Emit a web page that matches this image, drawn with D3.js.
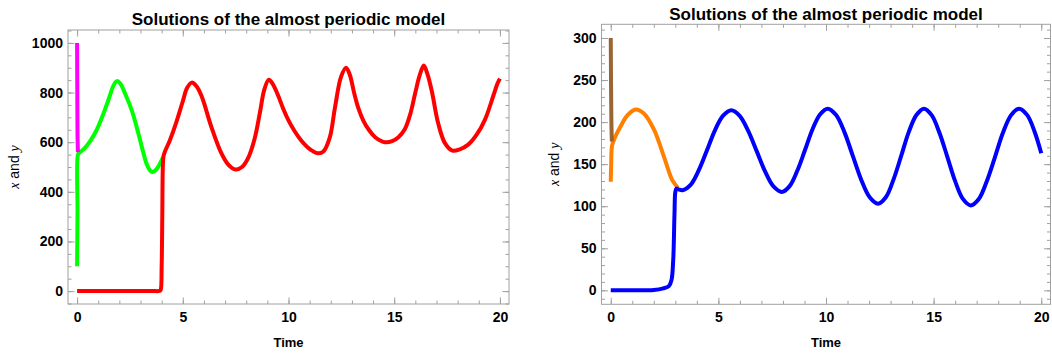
<!DOCTYPE html>
<html>
<head>
<meta charset="utf-8">
<script src="https://cdn.jsdelivr.net/npm/d3@7"></script>
<style>
  body { margin: 0; background: #fff; }
  svg { display: block; }
  .title { font: bold 17px "Liberation Sans", Arial, sans-serif; fill: #000; }
  .axis-label { font: bold 13px "Liberation Sans", Arial, sans-serif; fill: #000; }
  .y-label { font: 14px "Liberation Sans", Arial, sans-serif; fill: #000; }
  .y-label .var { font-family: "Liberation Serif", "Times New Roman", serif; font-style: italic; }
</style>
</head>
<body>
<svg id="chart" width="1052" height="354"></svg>
<script>
// time values
const leftMagenta = [[0, 1000], [0.01, 800], [0.02, 630], [0.04, 560]];
const leftGreen = [
  [0, 100], [0.02, 320], [0.04, 550], [0.1, 557], [0.35, 575], [0.61, 603], [0.9, 645],
  [1.2, 705], [1.5, 775], [1.72, 828], [1.88, 846], [2.05, 835], [2.3, 790], [2.6, 725],
  [2.9, 635], [3.15, 552], [3.3, 510], [3.45, 486], [3.55, 480], [3.68, 484], [3.85, 503],
  [4.0, 528], [4.08, 541],
];
const leftRed = [
  [0, 0], [1, 0], [2, 0], [3, 0], [3.6, 0], [3.85, 0], [3.92, 1], [3.96, 6], [4.0, 100],
  [4.03, 300], [4.06, 510], [4.1, 548],
  [4.4, 610], [4.7, 682], [5.0, 765], [5.2, 818], [5.42, 840], [5.65, 825], [5.9, 783],
  [6.35, 662], [6.8, 560], [7.15, 510], [7.5, 490], [7.8, 500], [8.1, 538], [8.4, 615],
  [8.65, 720], [8.85, 810], [9.07, 852], [9.25, 835], [9.5, 790], [9.75, 735], [10.0, 688],
  [10.3, 643], [10.6, 607], [10.9, 580], [11.15, 564], [11.4, 555], [11.65, 562], [11.95, 618],
  [12.2, 740], [12.48, 862], [12.72, 900], [12.9, 872], [13.1, 800], [13.3, 738], [13.55, 685],
  [13.8, 650], [14.1, 620], [14.55, 600], [14.9, 604], [15.2, 620], [15.5, 652], [15.75, 710],
  [16.0, 800], [16.2, 868], [16.4, 909], [16.58, 872], [16.78, 805], [17.08, 676], [17.4, 596],
  [17.75, 566], [18.1, 571], [18.5, 590], [18.9, 630], [19.3, 692], [19.7, 790], [19.88, 835],
  [20, 856],
];

// right panel
const rightBrown = [[0, 300], [0.015, 240], [0.03, 200], [0.05, 177]];
const rightOrange = [
  [0, 129], [0.02, 150], [0.06, 172], [0.2, 182], [0.46, 195], [0.77, 208], [1.16, 215],
  [1.55, 210], [2.01, 191], [2.47, 159], [2.86, 131], [3.12, 122],
];
const rightBlue = [
  [0, 0], [1, 0], [2, 0.5], [2.44, 2.4], [2.7, 5], [2.82, 12], [2.9, 35], [2.96, 90],
  [3.0, 117], [3.05, 121], [3.15, 120], [3.33, 119],
  [3.71, 125.4], [4.09, 142.8], [4.47, 166.5], [4.84, 190.3], [5.22, 207.6], [5.6, 214],
  [5.99, 207.5], [6.38, 189.8], [6.78, 165.5], [7.17, 141.3], [7.56, 123.5], [7.95, 117],
  [8.3, 123.6], [8.66, 141.8], [9.02, 166.5], [9.37, 191.3], [9.73, 209.4], [10.08, 216],
  [10.47, 208.4], [10.86, 187.8], [11.25, 159.5], [11.64, 131.3], [12.03, 110.6], [12.42, 103],
  [12.78, 110.6], [13.13, 131.3], [13.49, 159.5], [13.84, 187.8], [14.2, 208.4], [14.55, 216],
  [14.91, 208.3], [15.27, 187.3], [15.64, 158.5], [16.0, 129.8], [16.36, 108.7], [16.72, 101],
  [17.1, 108.7], [17.47, 129.8], [17.85, 158.5], [18.22, 187.3], [18.6, 208.3], [18.97, 216],
  [19.35, 208.3], [19.7, 188], [20, 163],
];

const xMajor = [0, 5, 10, 15, 20];
const xMinor = d3.range(0, 21, 1);
const leftYMajor = [0, 200, 400, 600, 800, 1000];
const leftYMinor = d3.range(-50, 1051, 50);
const rightYMajor = [0, 50, 100, 150, 200, 250, 300];
const rightYMinor = d3.range(-10, 311, 10);

const titleText = 'Solutions of the almost periodic model';
const frameColor = '#a0a0a0';

const svg = d3.select('#chart');

function drawPanel(p) {
  const x = d3.scaleLinear().domain([-0.43, 20.43]).range([p.left, p.right]);
  const y = d3.scaleLinear().domain(p.yDomain).range([p.bottom, p.top]);
  const w = p.right - p.left;
  const h = p.bottom - p.top;
  const g = svg.append('g');

  const styleAxis = (sel) => {
    sel.select('.domain').remove();
    sel.selectAll('line').attr('stroke', frameColor);
    sel.selectAll('text')
      .attr('font-family', '"Liberation Sans", Arial, sans-serif')
      .attr('font-weight', 'bold')
      .attr('font-size', 14)
      .attr('fill', '#000');
  };

  // minor ticks on all four sides
  const sides = [
    [d3.axisBottom, x, xMinor, `translate(0,${p.bottom})`],
    [d3.axisTop, x, xMinor, `translate(0,${p.top})`],
    [d3.axisLeft, y, p.yMinor, `translate(${p.left},0)`],
    [d3.axisRight, y, p.yMinor, `translate(${p.right},0)`],
  ];
  for (const [axis, scale, vals, tr] of sides) {
    g.append('g').attr('transform', tr)
      .call(axis(scale).tickValues(vals).tickSize(-3.5).tickFormat(''))
      .call(styleAxis);
  }

  g.append('g').attr('transform', `translate(0,${p.bottom})`)
    .call(d3.axisBottom(x).tickValues(xMajor).tickSize(-6.5).tickPadding(8).tickFormat(d3.format('d')))
    .call(styleAxis);
  g.append('g').attr('transform', `translate(0,${p.top})`)
    .call(d3.axisTop(x).tickValues(xMajor).tickSize(-6.5).tickFormat(''))
    .call(styleAxis);
  g.append('g').attr('transform', `translate(${p.left},0)`)
    .call(d3.axisLeft(y).tickValues(p.yMajor).tickSize(-6.5).tickPadding(5).tickFormat(d3.format('d')))
    .call(styleAxis);
  g.append('g').attr('transform', `translate(${p.right},0)`)
    .call(d3.axisRight(y).tickValues(p.yMajor).tickSize(-6.5).tickFormat(''))
    .call(styleAxis);

  g.append('rect')
    .attr('x', p.left).attr('y', p.top).attr('width', w).attr('height', h)
    .attr('fill', 'none').attr('stroke', frameColor).attr('stroke-width', 1);

  const line = d3.line()
    .x((d) => x(d[0]))
    .y((d) => y(d[1]))
    .curve(d3.curveCatmullRom.alpha(0.5));

  const clip = `clip-${p.id}`;
  g.append('clipPath').attr('id', clip)
    .append('rect').attr('x', p.left).attr('y', p.top).attr('width', w).attr('height', h);

  g.append('g').attr('clip-path', `url(#${clip})`)
    .selectAll('path')
    .data(p.series)
    .join('path')
    .attr('d', (d) => line(d.values))
    .attr('fill', 'none')
    .attr('stroke', (d) => d.color)
    .attr('stroke-width', 4)
    .attr('stroke-linejoin', 'round');

  g.append('text').attr('class', 'title')
    .attr('x', (p.left + p.right) / 2).attr('y', p.titleY)
    .attr('text-anchor', 'middle').text(titleText);

  g.append('text').attr('class', 'axis-label')
    .attr('x', (p.left + p.right) / 2).attr('y', 346.5)
    .attr('text-anchor', 'middle').text('Time');

  const yl = g.append('text').attr('class', 'y-label')
    .attr('transform', `translate(${p.yLabelX},${(p.top + p.bottom) / 2}) rotate(-90)`)
    .attr('text-anchor', 'middle');
  yl.append('tspan').attr('class', 'var').text('x');
  yl.append('tspan').text(' and ');
  yl.append('tspan').attr('class', 'var').text('y');
}

drawPanel({
  id: 'left', left: 68, right: 509, top: 30, bottom: 304,
  yDomain: [-52, 1052], yMajor: leftYMajor, yMinor: leftYMinor,
  titleY: 25, yLabelX: 19,
  series: [
    { values: leftGreen, color: '#00ff00' },
    { values: leftMagenta, color: '#ff00ff' },
    { values: leftRed, color: '#ff0000' },
  ],
});

drawPanel({
  id: 'right', left: 601.5, right: 1050.5, top: 24.3, bottom: 304.3,
  yDomain: [-16.6, 316.3], yMajor: rightYMajor, yMinor: rightYMinor,
  titleY: 20, yLabelX: 559,
  series: [
    { values: rightOrange, color: '#ff8000' },
    { values: rightBrown, color: '#996633' },
    { values: rightBlue, color: '#0000ff' },
  ],
});
</script>
</body>
</html>
